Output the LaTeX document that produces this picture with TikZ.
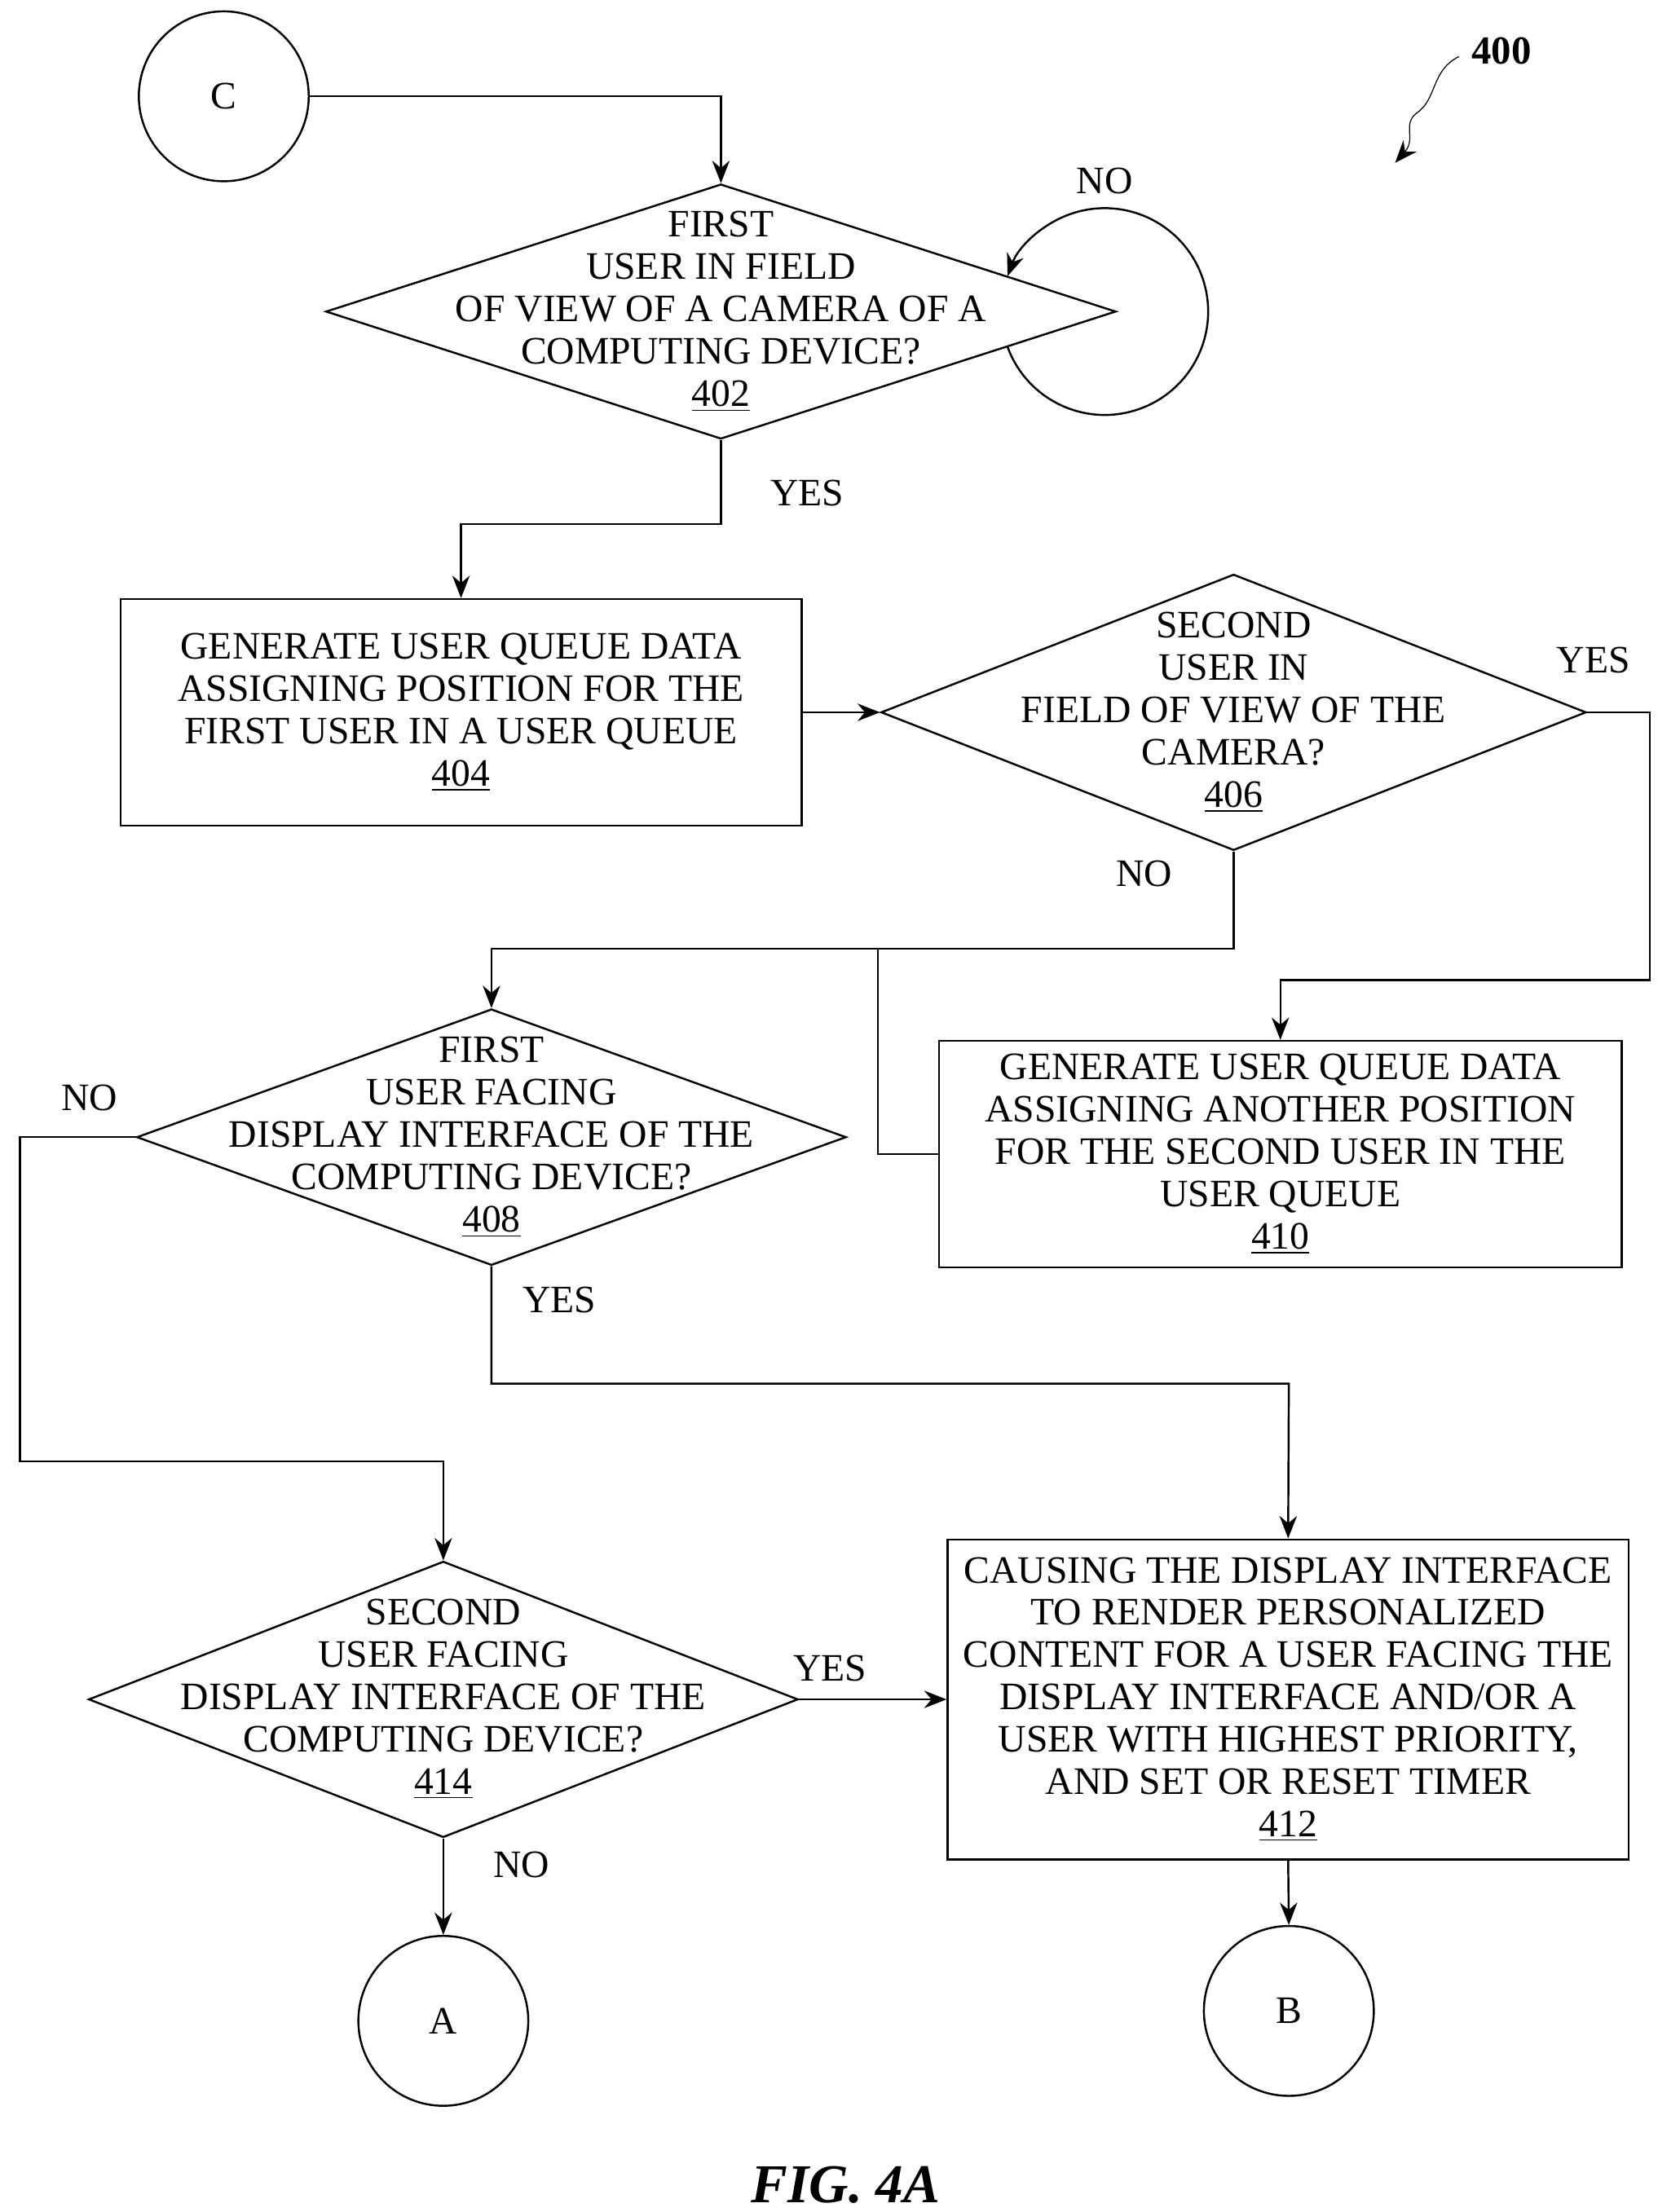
\documentclass[tikz,border=0pt]{standalone}
\usepackage{fontspec}
\setmainfont{Liberation Serif}
\usetikzlibrary{shapes.geometric, arrows.meta, positioning}

\begin{document}
\begin{tikzpicture}[
    x=0.02cm, y=-0.02cm,
    font=\fontsize{15.6}{17}\selectfont,
    box/.style={rectangle, draw, thick, align=center, inner sep=0pt},
    dec/.style={diamond, draw, thick, inner sep=0pt},
    txt/.style={align=center, inner sep=0pt},
    conn/.style={circle, draw, thick, minimum size=2.4cm, inner sep=0pt},
    lbl/.style={inner sep=0pt},
    arrow/.style={-{Stealth[length=9pt,width=7pt]}, thick},
    line/.style={thick}
]
\useasboundingbox (0,0) rectangle (1186,1562);

% connectors
\node[conn] (C) at (158,68) {C};
\node[conn] (A) at (313,1427) {A};
\node[conn] (B) at (910,1420) {B};

% decisions
\node[dec, minimum width=11.16cm, minimum height=3.6cm] (d402) at (509,220) {};
\node[txt] at (d402) {FIRST\\USER IN FIELD\\OF VIEW OF A CAMERA OF A\\COMPUTING DEVICE?\\\underline{402}};
\node[dec, minimum width=9.96cm, minimum height=3.9cm] (d406) at (871,503) {};
\node[txt] at (d406) {SECOND\\USER IN\\FIELD OF VIEW OF THE\\CAMERA?\\\underline{406}};
\node[dec, minimum width=10.02cm, minimum height=3.62cm] (d408) at (347,803) {};
\node[txt] at (d408) {FIRST\\USER FACING\\DISPLAY INTERFACE OF THE\\COMPUTING DEVICE?\\\underline{408}};
\node[dec, minimum width=10.02cm, minimum height=3.9cm] (d414) at (313,1200) {};
\node[txt] at (d414) {SECOND\\USER FACING\\DISPLAY INTERFACE OF THE\\COMPUTING DEVICE?\\\underline{414}};

% process boxes
\node[box, minimum width=9.62cm, minimum height=3.2cm] (b404) at (325.5,503) {GENERATE USER QUEUE DATA\\ASSIGNING POSITION FOR THE\\FIRST USER IN A USER QUEUE\\\underline{404}};
\node[box, minimum width=9.64cm, minimum height=3.2cm] (b410) at (904,815) {GENERATE USER QUEUE DATA\\ASSIGNING ANOTHER POSITION\\FOR THE SECOND USER IN THE\\USER QUEUE\\\underline{410}};
\node[box, minimum width=9.62cm, minimum height=4.52cm] (b412) at (909.5,1200) {CAUSING THE DISPLAY INTERFACE\\TO RENDER PERSONALIZED\\CONTENT FOR A USER FACING THE\\DISPLAY INTERFACE AND/OR A\\USER WITH HIGHEST PRIORITY,\\AND SET OR RESET TIMER\\\underline{412}};

% labels
\node[lbl] (no402) at (780,128) {NO};
\node[lbl] (yes402) at (570,348) {YES};
\node[lbl] (yes406) at (1125,466) {YES};
\node[lbl] (no406) at (808,617) {NO};
\node[lbl] (no408) at (63,775) {NO};
\node[lbl] (yes408) at (395,918) {YES};
\node[lbl] (yes414) at (586,1178) {YES};
\node[lbl] (no414) at (368,1317) {NO};
\node[lbl, font=\fontsize{16}{18}\selectfont\bfseries] (num) at (1060,36) {400};
\node[lbl, font=\fontsize{22}{24}\selectfont\bfseries\itshape] (fig) at (597,1543) {FIG. 4A};

% flow
\draw[arrow] (C.east) -| (d402.north);
\draw[arrow] (780,220) ++(160:73) arc[start angle=160, end angle=-160, radius=73];
\draw[arrow] (d402.south) -- (509,370) -| (b404.north);
\draw[arrow] (b404.east) -- (d406.west);
\draw[arrow] (d406.east) -- (1165,503) -- (1165,692) -| (b410.north);
\draw[arrow] (d406.south) -- (871,670) -| (d408.north);
\draw[line] (b410.west) -| (620,670);
\draw[arrow] (d408.west) -| (14,1032) -| (d414.north);
\draw[arrow] (d408.south) |- (910,977) -- (b412.north);
\draw[arrow] (d414.east) -- (b412.west);
\draw[arrow] (d414.south) -- (A.north);
\draw[arrow] (b412.south) -- (B.north);
\draw[arrow, thin] (1030,40) .. controls (1010,50) and (1015,70) .. (1000,80) .. controls (990,88) and (1000,98) .. (985,115);
\end{tikzpicture}
\end{document}
